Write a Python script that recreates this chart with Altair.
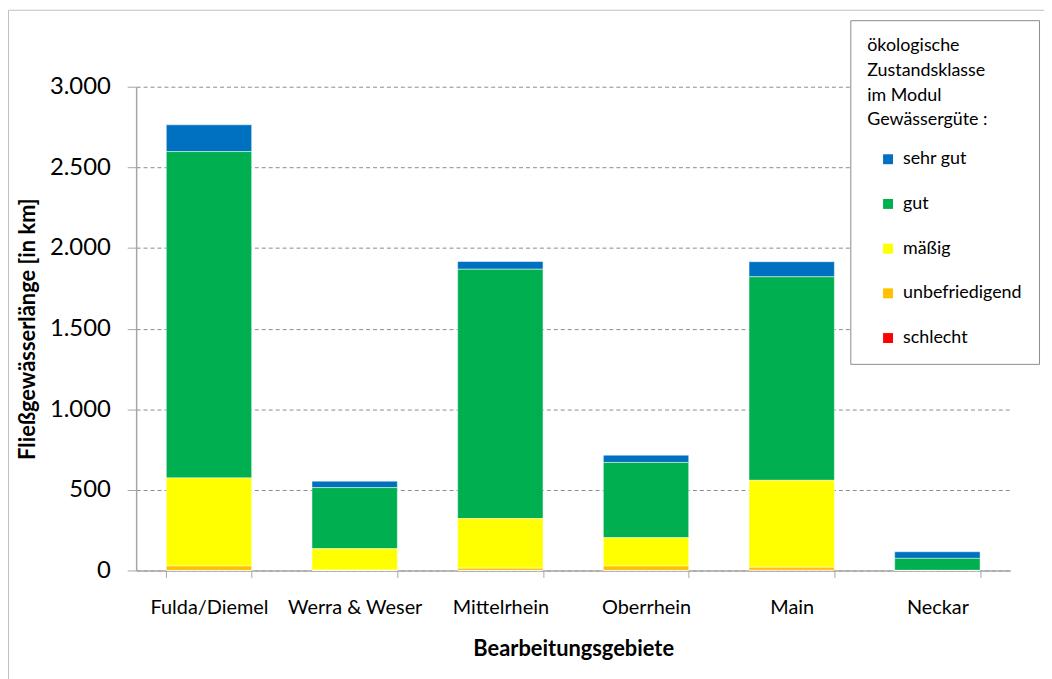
import altair as alt
import pandas as pd

gebiete = ["Fulda/Diemel", "Werra & Weser", "Mittelrhein", "Oberrhein", "Main", "Neckar"]
klassen = ["sehr gut", "gut", "mäßig", "unbefriedigend", "schlecht"]
farben = ["#0070C0", "#00B050", "#FFFF00", "#FFC000", "#FF0000"]

sehr_gut = [166, 40, 48, 45, 94, 41]
gut = [2024, 379, 1546, 467, 1262, 75]
maessig = [547, 133, 308, 176, 539, 0]
unbefriedigend = [27, 2, 14, 27, 19, 0]
schlecht = [0, 0, 0, 0, 1, 0]

werte = {
    "sehr gut": sehr_gut,
    "gut": gut,
    "mäßig": maessig,
    "unbefriedigend": unbefriedigend,
    "schlecht": schlecht,
}
rows = []
for k, klasse in enumerate(klassen):
    for g, gebiet in enumerate(gebiete):
        rows.append({"gebiet": gebiet, "klasse": klasse, "km": werte[klasse][g], "rang": len(klassen) - k})
df = pd.DataFrame(rows)

FONT = "Lato"

bars = (
    alt.Chart(df)
    .mark_bar(stroke="white", strokeWidth=0.8, strokeOpacity=0.6)
    .encode(
        x=alt.X(
            "gebiet:N",
            sort=gebiete,
            title="Bearbeitungsgebiete",
            scale=alt.Scale(paddingInner=0.414, paddingOuter=0.207),
            axis=alt.Axis(
                labelAngle=0,
                labelFontSize=20,
                labelPadding=20,
                tickBand="extent",
                tickSize=7,
                tickColor="#A6A6A6",
                domainColor="#A6A6A6",
                domainWidth=1.5,
                titleFontSize=22,
                titlePadding=22,
            ),
        ),
        y=alt.Y(
            "km:Q",
            title="Fließgewässerlänge [in km]",
            stack="zero",
            scale=alt.Scale(domain=[0, 3000], nice=False),
            axis=alt.Axis(
                values=[0, 500, 1000, 1500, 2000, 2500, 3000],
                labelExpr="replace(format(datum.value, ',d'), ',', '.')",
                labelFontSize=24,
                labelPadding=17,
                tickSize=9,
                tickColor="#A6A6A6",
                domainColor="#A6A6A6",
                domainWidth=1.5,
                grid=True,
                gridColor="#8C8C8C",
                gridDash=[4, 3],
                titleFontSize=22,
                titlePadding=10,
            ),
        ),
        color=alt.Color(
            "klasse:N",
            sort=klassen,
            scale=alt.Scale(domain=klassen, range=farben),
            legend=alt.Legend(
                orient="none",
                legendX=719,
                legendY=-67,
                title=["ökologische", "Zustandsklasse", "\u2002im Modul", "Gewässergüte :"],
                titleFontSize=18,
                titleFontWeight="normal",
                titleLineHeight=25,
                titlePadding=21,
                labelFontSize=18,
                symbolType="square",
                symbolSize=100,
                symbolOffset=12,
                symbolStrokeWidth=0,
                labelOffset=6,
                rowPadding=27,
                padding=17,
                strokeColor="#8C8C8C",
                fillColor="white",
            ),
        ),
        order=alt.Order("rang:Q", sort="ascending"),
    )
)

frame = (
    alt.Chart(alt.Data(values=[{"a": 1}]))
    .mark_rect(fillOpacity=0, stroke="#BFBFBF", strokeWidth=1)
    .encode(x=alt.value(-128.5), x2=alt.value(1100), y=alt.value(-77), y2=alt.value(800))
)

chart = (
    alt.layer(frame, bars)
    .properties(
        width=880,
        height=487,
        autosize=alt.AutoSizeParams(type="none"),
        padding={"left": 129, "top": 77, "right": 34, "bottom": 107},
    )
    .configure(font=FONT)
    .configure_view(stroke=None)
    .configure_axis(labelColor="black", titleColor="black", labelFont=FONT, titleFont=FONT)
    .configure_legend(labelColor="black", titleColor="black", labelFont=FONT, titleFont=FONT)
)

chart.save("out.html", embed_options={"renderer": "svg", "actions": False})
